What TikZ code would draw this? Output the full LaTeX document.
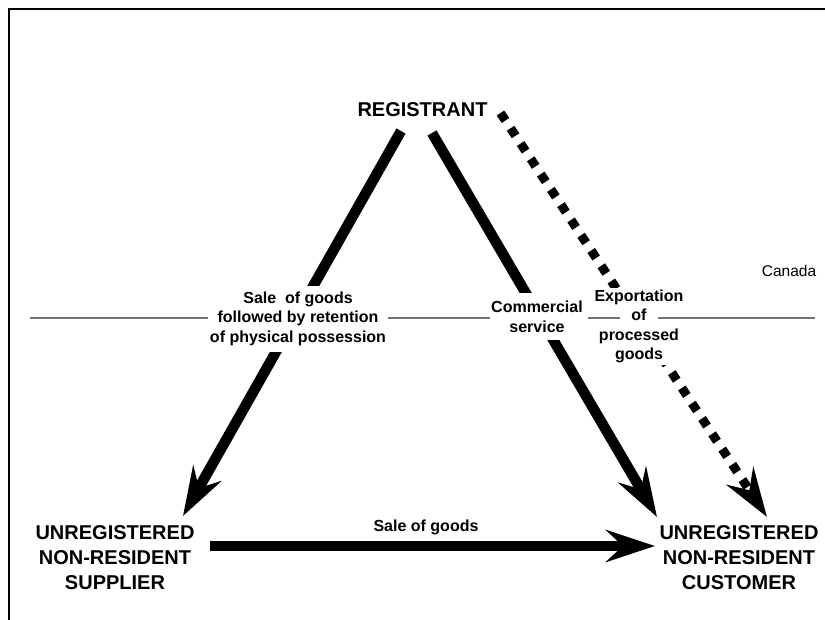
\documentclass[tikz,border=0pt]{standalone}
\usepackage{fontspec}
\setmainfont{Liberation Sans}
\usetikzlibrary{arrows.meta}
\begin{document}
\begin{tikzpicture}[x=1pt,y=-1pt,
  big/.style={font=\fontsize{20}{25}\selectfont\bfseries, align=center, inner sep=0pt},
  lab/.style={font=\fontsize{16}{19.5}\selectfont\bfseries, align=center, fill=white, inner xsep=2pt},
  flow/.style={line width=10.5pt, -{Stealth[length=49pt,width=32pt,inset=17pt]}},
  dotflow/.style={flow, line width=9pt, dash pattern=on 9pt off 9.3pt},
  border/.style={line width=1.2pt, black!55},
  frame/.style={line width=2pt}]
\useasboundingbox (0,0) rectangle (825,620);
% frame (partly visible)
\draw[frame] (825,9) -- (9,9) -- (9,620);
% main nodes
\node[big, anchor=base] (reg) at (422.5,117) {REGISTRANT};
\node[big, anchor=north] (sup) at (115,525.7) {UNREGISTERED\\NON-RESIDENT\\SUPPLIER};
\node[big, anchor=north] (cus) at (739,525.7) {UNREGISTERED\\NON-RESIDENT\\CUSTOMER};
\node[font=\fontsize{15.5}{18}\selectfont, anchor=base] (can) at (789,277) {Canada};
% connector end points
\coordinate (lS) at (401,131);
\coordinate (lE) at (183,516);
\coordinate (rS) at (432,133);
\coordinate (rE) at (657,517);
\coordinate (dS) at (500.5,113);
\coordinate (dE) at (767,517);
\coordinate (bS) at (210,546);
\coordinate (bE) at (655,546);
% arrows
\draw[flow] (lS) -- (lE);
\draw[flow] (rS) -- (rE);
\draw[dotflow] (dS) -- (dE);
\draw[flow] (bS) -- (bE);
\node[font=\fontsize{16}{19.5}\selectfont\bfseries, anchor=base] (sog) at (426,531) {Sale of goods};
% labels on arrows
\node[lab, inner ysep=6pt, anchor=north] (lab1) at (298,285.5) {Sale\ \ of goods\\followed by retention\\of physical possession};
\node[lab, inner ysep=8pt, anchor=north] (lab2) at (537,293) {Commercial\\service};
\node[lab, inner ysep=2pt, anchor=north] (lab3) at (639,287.5) {Exportation\\of\\processed\\goods};
% border line
\coordinate (g1) at (30,318);
\coordinate (g2) at (208,318);
\coordinate (g3) at (388,318);
\coordinate (g4) at (490,318);
\coordinate (g5) at (588,318);
\coordinate (g6) at (620,318);
\coordinate (g7) at (658,318);
\coordinate (g8) at (815,318);
\draw[border] (g1) -- (g2);
\draw[border] (g3) -- (g4);
\draw[border] (g5) -- (g6);
\draw[border] (g7) -- (g8);
\end{tikzpicture}
\end{document}
